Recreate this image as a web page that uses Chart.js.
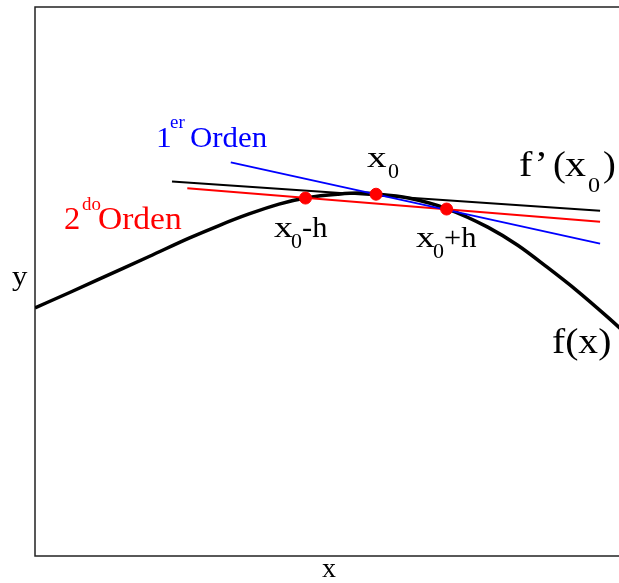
<!DOCTYPE html>
<html>
<head>
<meta charset="utf-8">
<script src="https://cdn.jsdelivr.net/npm/chart.js@4/dist/chart.umd.min.js"></script>
<style>
  html, body { margin: 0; padding: 0; background: #fff; overflow: hidden; }
  #wrap { width: 630px; height: 583px; }
</style>
</head>
<body>
<div id="wrap"><canvas id="derivChart" width="630" height="583"></canvas></div>
<script>
'use strict';

// f(x), read point by point
var curveX = [0, 0.59, 1.27, 1.95, 2.62, 3.13, 3.64, 4.15, 4.65, 5.16, 5.50, 5.84, 6.35, 7.02, 7.70, 8.21, 8.71, 9.22, 9.73, 10];
var curveY = [4.52, 4.80, 5.13, 5.46, 5.79, 6.02, 6.23, 6.41, 6.53, 6.59, 6.61, 6.59, 6.52, 6.32, 5.99, 5.66, 5.26, 4.83, 4.36, 4.10];

// evaluation points x0-h, x0, x0+h
var nodeX = [4.6, 5.8, 7.0];
var nodeY = [6.52, 6.59, 6.32];

// straight lines: exact tangent, 1st order and 2nd order approximations
var tangentX = [2.33, 9.61];
var tangentY = [6.82, 6.29];
var firstX = [3.33, 9.61];
var firstY = [7.17, 5.69];
var secondX = [2.59, 9.61];
var secondY = [6.70, 6.09];

function pairs(xs, ys) {
    var out = [];
    for (var i = 0; i < xs.length; i++) {
        out.push({x: xs[i], y: ys[i]});
    }
    return out;
}

var SERIF = '"Liberation Serif", "DejaVu Serif", serif';

// text pieces: [string, size, left x, baseline y, horizontal stretch]
function drawPieces(ctx, color, pieces) {
    ctx.fillStyle = color;
    ctx.textBaseline = 'alphabetic';
    ctx.textAlign = 'left';
    pieces.forEach(function (p) {
        ctx.save();
        ctx.font = p[1] + 'px ' + SERIF;
        ctx.translate(p[2], p[3]);
        ctx.scale(p[4] || 1, 1);
        ctx.fillText(p[0], 0, 0);
        ctx.restore();
    });
}

var framePlugin = {
    id: 'frameAndLabels',
    beforeDatasetsDraw: function (chart) {
        var a = chart.chartArea;
        var ctx = chart.ctx;
        ctx.save();
        ctx.strokeStyle = '#222';
        ctx.lineWidth = 1.5;
        ctx.strokeRect(a.left, a.top, a.right - a.left, a.bottom - a.top);
        ctx.restore();
    },
    afterDraw: function (chart) {
        var ctx = chart.ctx;
        ctx.save();
        drawPieces(ctx, '#0000ff', [['1', 30, 156, 147, 1.05], ['er', 18, 170, 128, 1.05], ['Orden', 30, 190, 147, 1.03]]);
        drawPieces(ctx, '#ff0000', [['2', 31, 64, 229, 1.05], ['do', 18, 82, 210, 1.05], ['Orden', 31, 98, 229, 1.08]]);
        drawPieces(ctx, '#000', [['x', 29, 367, 167, 1.35], ['0', 20, 388, 178, 1.1]]);
        drawPieces(ctx, '#000', [['x', 29, 274, 237, 1.3], ['0', 20, 291, 248, 1.1], ['-h', 29, 302, 237, 1.05]]);
        drawPieces(ctx, '#000', [['x', 29, 416, 247, 1.3], ['0', 20, 433, 258, 1.1], ['+h', 29, 444, 247, 1.05]]);
        drawPieces(ctx, '#000', [['f\u2019', 35, 519, 176, 1.15], ['(', 35, 553, 176, 1.1], ['x', 35, 565, 176, 1.2], ['0', 22, 588, 192, 1.1], [')', 35, 603, 176, 1.1]]);
        drawPieces(ctx, '#000', [['f(x)', 36, 552, 353, 1.1]]);
        drawPieces(ctx, '#000', [['y', 28, 12, 285, 1.1]]);
        ctx.font = '28px ' + SERIF;
        ctx.textAlign = 'center';
        ctx.fillText('x', (chart.chartArea.left + chart.chartArea.right) / 2, 577);
        ctx.restore();
    }
};

var ctx = document.getElementById('derivChart');

var myChart = new Chart(ctx, {
    type: 'scatter',
    data: {
        datasets: [
            {
                label: 'f(x)',
                data: pairs(curveX, curveY),
                showLine: true,
                borderColor: '#000',
                borderWidth: 3.5,
                pointRadius: 0,
                cubicInterpolationMode: 'monotone',
                order: 3
            },
            {
                label: "f'(x0)",
                data: pairs(tangentX, tangentY),
                showLine: true,
                borderColor: '#000',
                borderWidth: 2,
                pointRadius: 0,
                order: 4
            },
            {
                label: '2do Orden',
                data: pairs(secondX, secondY),
                showLine: true,
                borderColor: '#ff0000',
                borderWidth: 2,
                pointRadius: 0,
                order: 2
            },
            {
                label: '1er Orden',
                data: pairs(firstX, firstY),
                showLine: true,
                borderColor: '#0000ff',
                borderWidth: 2,
                pointRadius: 0,
                order: 1
            },
            {
                label: 'nodos',
                data: pairs(nodeX, nodeY),
                showLine: false,
                backgroundColor: '#ff0000',
                borderColor: '#ff0000',
                pointRadius: 6,
                order: 0
            }
        ]
    },
    options: {
        responsive: false,
        animation: false,
        layout: {
            padding: {left: 35, top: 7, right: 4, bottom: 27}
        },
        scales: {
            x: {type: 'linear', min: 0, max: 10, display: false},
            y: {type: 'linear', min: 0, max: 10, display: false}
        },
        plugins: {
            legend: {display: false},
            title: {display: false},
            tooltip: {enabled: false}
        }
    },
    plugins: [framePlugin]
});
</script>
</body>
</html>
